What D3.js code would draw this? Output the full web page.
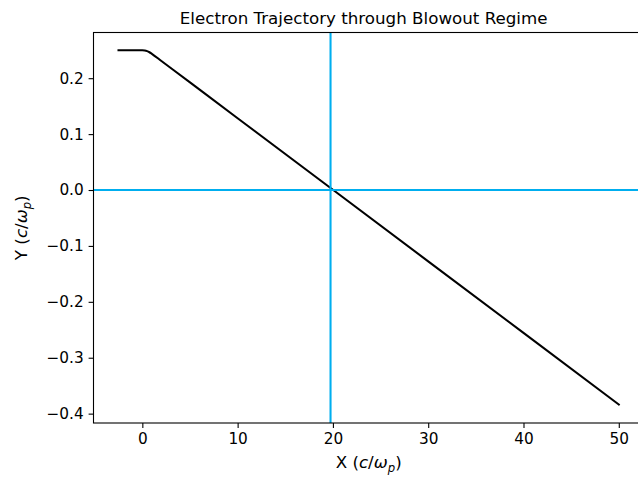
<!DOCTYPE html>
<html>
<head>
<meta charset="utf-8">
<script src="https://cdn.jsdelivr.net/npm/d3@7"></script>
<style>
  html, body { margin: 0; padding: 0; background: white; overflow: hidden; }
  svg { display: block; font-family: "DejaVu Sans", sans-serif; }
</style>
</head>
<body>
<div id="chart"></div>
<script>
// Datos
const xVals = [-2.5, -1.5, -0.5, 0, 0.25, 0.5, 0.75, 1, 2, 5, 10, 20, 30, 40, 50];
const yVals = [0.25, 0.25, 0.25, 0.25, 0.2496, 0.2484, 0.2464, 0.2436, 0.2308, 0.1924, 0.1284, 0.0004, -0.1276, -0.2556, -0.3836];
const xTicks = [0, 10, 20, 30, 40, 50];
const yTicks = [-0.4, -0.3, -0.2, -0.1, 0.0, 0.1, 0.2];
const vLineX = 19.75; // línea vertical
const hLineY = 0;     // línea horizontal

const width = 638, height = 478;
const mLeft = 93.5, mRight = 643.8, mTop = 32.5, mBottom = 423;

const svg = d3.select("#chart").append("svg")
  .attr("width", width).attr("height", height);

const x = d3.scaleLinear().domain([-5.125, 52.625]).range([mLeft, mRight]);
const y = d3.scaleLinear().domain([-0.41675, 0.28175]).range([mBottom, mTop]);

svg.append("defs").append("clipPath").attr("id", "clip")
  .append("rect").attr("x", mLeft).attr("y", mTop)
  .attr("width", mRight - mLeft).attr("height", mBottom - mTop);

const plot = svg.append("g").attr("clip-path", "url(#clip)");

// Trayectoria
const pts = xVals.map((v, i) => [v, yVals[i]]);
plot.append("path")
  .datum(pts)
  .attr("fill", "none")
  .attr("stroke", "#000")
  .attr("stroke-width", 2.08)
  .attr("stroke-linejoin", "round")
  .attr("stroke-linecap", "square")
  .attr("d", d3.line().x(d => x(d[0])).y(d => y(d[1])).curve(d3.curveMonotoneX));

// Líneas de referencia
plot.append("line")
  .attr("x1", x(vLineX)).attr("x2", x(vLineX))
  .attr("y1", mTop).attr("y2", mBottom)
  .attr("stroke", "#00aeef").attr("stroke-width", 2.08);
plot.append("line")
  .attr("x1", mLeft).attr("x2", mRight)
  .attr("y1", y(hLineY)).attr("y2", y(hLineY))
  .attr("stroke", "#00aeef").attr("stroke-width", 2.08);

// Ejes
const fmtY = d => d3.format(".1f")(d).replace("-", "\u2212");
const xAxis = svg.append("g").attr("transform", `translate(0,${mBottom})`)
  .call(d3.axisBottom(x).tickValues(xTicks).tickSize(4.9).tickPadding(4.9).tickFormat(d3.format("d")));
const yAxis = svg.append("g").attr("transform", `translate(${mLeft},0)`)
  .call(d3.axisLeft(y).tickValues(yTicks).tickSize(4.9).tickPadding(4.9).tickFormat(fmtY));

[xAxis, yAxis].forEach(g => {
  g.select(".domain").remove();
  g.selectAll(".tick line").attr("stroke", "#000").attr("stroke-width", 1.1);
  g.selectAll(".tick text").attr("fill", "#000")
    .style("font-size", "15.3px").style("font-family", "DejaVu Sans, sans-serif");
});

// Bordes
svg.append("rect").attr("x", mLeft).attr("y", mTop)
  .attr("width", mRight - mLeft).attr("height", mBottom - mTop)
  .attr("fill", "none").attr("stroke", "#000").attr("stroke-width", 1.1);

// Título
svg.append("text")
  .attr("x", (mLeft + mRight) / 2 - 5).attr("y", 24)
  .attr("text-anchor", "middle")
  .style("font-size", "16.7px")
  .text("Electron Trajectory through Blowout Regime");

// Etiquetas de los ejes
const addLabel = (sel, prefix) => {
  sel.append("tspan").text(prefix + " (");
  sel.append("tspan").attr("font-style", "italic").text("c");
  sel.append("tspan").text("/");
  sel.append("tspan").attr("font-style", "italic").text("\u03c9");
  sel.append("tspan").attr("font-style", "italic").attr("dy", 3.5).style("font-size", "11.7px").text("p");
  sel.append("tspan").attr("dy", -3.5).text(")");
};

const xl = svg.append("text")
  .attr("x", (mLeft + mRight) / 2).attr("y", 468)
  .attr("text-anchor", "middle")
  .style("font-size", "16.7px");
addLabel(xl, "X");

const yl = svg.append("text")
  .attr("transform", `translate(27,${(mTop + mBottom) / 2}) rotate(-90)`)
  .attr("text-anchor", "middle")
  .style("font-size", "16.7px");
addLabel(yl, "Y");
</script>
</body>
</html>
